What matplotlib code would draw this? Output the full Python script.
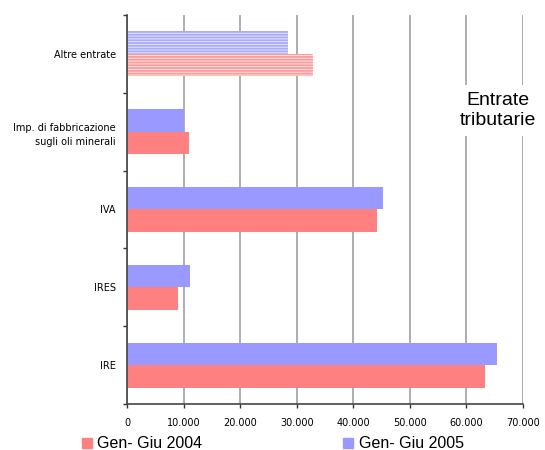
import numpy as np
import matplotlib
matplotlib.use("Agg")
import matplotlib.pyplot as plt
from matplotlib.lines import Line2D

plt.rcParams['font.family'] = ['Liberation Sans', 'DejaVu Sans']
plt.rcParams['hatch.linewidth'] = 1.3

# categorie dal basso verso l'alto
categorie = ["IRE", "IRES", "IVA", "Imp. di fabbricazione\nsugli oli minerali", "Altre entrate"]
giu_2004 = [63300, 9100, 44200, 10900, 32900]
giu_2005 = [65400, 11200, 45200, 10100, 28400]
serie = ["Gen- Giu 2004", "Gen- Giu 2005"]
xticks = [0, 10000, 20000, 30000, 40000, 50000, 60000, 70000]
xtick_labels = ["0", "10.000", "20.000", "30.000", "40.000", "50.000", "60.000", "70.000"]

rosso = "#ff8080"
blu = "#9999ff"
rosso_chiaro = "#ffe4e4"
blu_chiaro = "#e6e6ff"

fig = plt.figure(figsize=(5.45, 4.5), dpi=100)
ax = fig.add_axes([0.233, 0.1022, 0.7266, 0.8645])

y = np.arange(len(categorie))
h = 0.29
for i in range(len(categorie)):
    if categorie[i] == "Altre entrate":
        # barre a righe orizzontali
        ax.barh(y[i] - h/2, giu_2004[i], height=h, facecolor=rosso_chiaro, hatch='------',
                edgecolor='#ff9a9a', linewidth=0)
        ax.barh(y[i] + h/2, giu_2005[i], height=h, facecolor=blu_chiaro, hatch='------',
                edgecolor='#aaaaff', linewidth=0)
    else:
        ax.barh(y[i] - h/2, giu_2004[i], height=h, color=rosso, linewidth=0)
        ax.barh(y[i] + h/2, giu_2005[i], height=h, color=blu, linewidth=0)

ax.set_xlim(0, 70000)
ax.set_ylim(-0.5, len(categorie) - 0.5)
ax.set_xticks(xticks)
ax.set_xticklabels(xtick_labels, fontsize=7, family='DejaVu Sans')
ax.set_yticks(y)
ax.set_yticklabels(categorie, fontsize=7, family='DejaVu Sans', linespacing=1.5)
ax.set_yticks(np.arange(len(categorie) + 1) - 0.5, minor=True)
ax.tick_params(axis='y', which='major', length=0, pad=8)
ax.tick_params(axis='y', which='minor', length=3, width=1, color='#333333')
ax.tick_params(axis='x', length=3, width=1, color='#333333', pad=7)

ax.xaxis.grid(True, color='#a0a0a0', linewidth=1.2)
ax.set_axisbelow(True)
for s in ['top', 'right']:
    ax.spines[s].set_visible(False)
for s in ['left', 'bottom']:
    ax.spines[s].set_color('#444444')
    ax.spines[s].set_linewidth(1.2)

ax.text(0.938, 0.755, "Entrate\ntributarie", transform=ax.transAxes, ha='center', va='center',
        fontsize=14, linespacing=1.27,
        bbox=dict(facecolor='white', edgecolor='none', pad=5))

maniglie = [Line2D([], [], marker='s', linestyle='none', markersize=7.5, color=rosso),
            Line2D([], [], marker='s', linestyle='none', markersize=7.5, color=blu)]
fig.legend(maniglie, serie, loc='center left', bbox_to_anchor=(0.149, 0.014), ncol=2,
           frameon=False, fontsize=11.5, handlelength=0.7, handletextpad=0.3,
           columnspacing=8.8, borderpad=0, borderaxespad=0)

fig.savefig("out.png", dpi=100)
